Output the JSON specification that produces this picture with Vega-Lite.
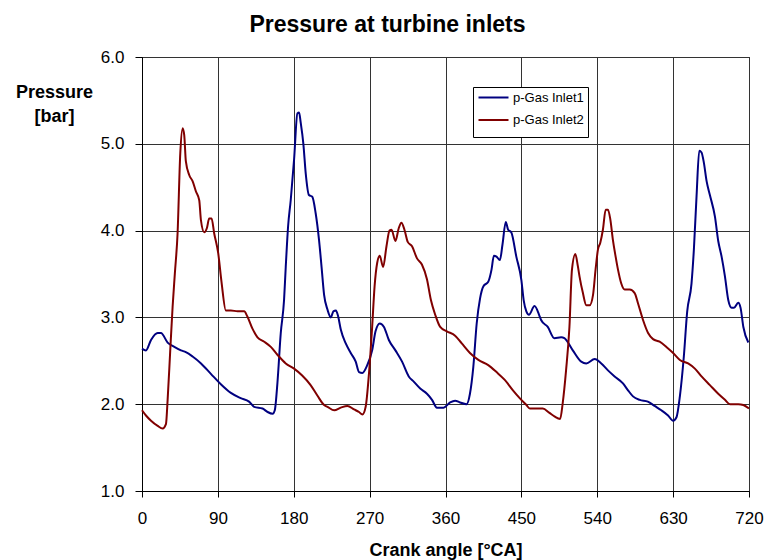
{
  "$schema": "https://vega.github.io/schema/vega-lite/v6.json",
  "width": 607,
  "height": 434,
  "autosize": "none",
  "padding": {"left": 142, "top": 57, "right": 18, "bottom": 69},
  "background": "white",
  "config": {
    "font": "Liberation Sans",
    "view": {"stroke": "black", "strokeWidth": 1}
  },
  "title": {
    "text": "Pressure at turbine inlets",
    "fontSize": 23,
    "fontWeight": "bold",
    "color": "black",
    "anchor": "middle",
    "dx": -58,
    "offset": 11
  },
  "datasets": {
    "pressure": [
      {"a":0,"p":2.64,"s":"p-Gas Inlet1"},{"a":4.7,"p":2.62,"s":"p-Gas Inlet1"},{"a":10.7,"p":2.74,"s":"p-Gas Inlet1"},{"a":18.6,"p":2.82,"s":"p-Gas Inlet1"},{"a":22.5,"p":2.82,"s":"p-Gas Inlet1"},{"a":30.4,"p":2.71,"s":"p-Gas Inlet1"},{"a":38.3,"p":2.66,"s":"p-Gas Inlet1"},{"a":46.2,"p":2.62,"s":"p-Gas Inlet1"},{"a":52,"p":2.6,"s":"p-Gas Inlet1"},{"a":60,"p":2.55,"s":"p-Gas Inlet1"},{"a":70,"p":2.47,"s":"p-Gas Inlet1"},{"a":81.7,"p":2.35,"s":"p-Gas Inlet1"},{"a":93.5,"p":2.23,"s":"p-Gas Inlet1"},{"a":105.4,"p":2.13,"s":"p-Gas Inlet1"},{"a":117,"p":2.07,"s":"p-Gas Inlet1"},{"a":127,"p":2.03,"s":"p-Gas Inlet1"},{"a":133,"p":1.97,"s":"p-Gas Inlet1"},{"a":143,"p":1.95,"s":"p-Gas Inlet1"},{"a":149,"p":1.91,"s":"p-Gas Inlet1"},{"a":155,"p":1.89,"s":"p-Gas Inlet1"},{"a":157.5,"p":1.93,"s":"p-Gas Inlet1"},{"a":160.6,"p":2.24,"s":"p-Gas Inlet1"},{"a":164.6,"p":2.82,"s":"p-Gas Inlet1"},{"a":168.5,"p":3.2,"s":"p-Gas Inlet1"},{"a":170.5,"p":3.58,"s":"p-Gas Inlet1"},{"a":173.3,"p":4.05,"s":"p-Gas Inlet1"},{"a":176.4,"p":4.35,"s":"p-Gas Inlet1"},{"a":180.4,"p":4.82,"s":"p-Gas Inlet1"},{"a":184.3,"p":5.35,"s":"p-Gas Inlet1"},{"a":186.3,"p":5.36,"s":"p-Gas Inlet1"},{"a":188.3,"p":5.24,"s":"p-Gas Inlet1"},{"a":191.4,"p":5.0,"s":"p-Gas Inlet1"},{"a":194.2,"p":4.66,"s":"p-Gas Inlet1"},{"a":198,"p":4.41,"s":"p-Gas Inlet1"},{"a":202,"p":4.39,"s":"p-Gas Inlet1"},{"a":206,"p":4.2,"s":"p-Gas Inlet1"},{"a":210,"p":3.89,"s":"p-Gas Inlet1"},{"a":213,"p":3.58,"s":"p-Gas Inlet1"},{"a":216,"p":3.26,"s":"p-Gas Inlet1"},{"a":220,"p":3.09,"s":"p-Gas Inlet1"},{"a":224,"p":3.0,"s":"p-Gas Inlet1"},{"a":227,"p":3.07,"s":"p-Gas Inlet1"},{"a":230,"p":3.08,"s":"p-Gas Inlet1"},{"a":232.7,"p":3.01,"s":"p-Gas Inlet1"},{"a":235.8,"p":2.86,"s":"p-Gas Inlet1"},{"a":241.7,"p":2.7,"s":"p-Gas Inlet1"},{"a":247.6,"p":2.59,"s":"p-Gas Inlet1"},{"a":253.5,"p":2.49,"s":"p-Gas Inlet1"},{"a":257.4,"p":2.37,"s":"p-Gas Inlet1"},{"a":261.4,"p":2.36,"s":"p-Gas Inlet1"},{"a":267.2,"p":2.45,"s":"p-Gas Inlet1"},{"a":273,"p":2.62,"s":"p-Gas Inlet1"},{"a":277,"p":2.84,"s":"p-Gas Inlet1"},{"a":282,"p":2.93,"s":"p-Gas Inlet1"},{"a":287,"p":2.89,"s":"p-Gas Inlet1"},{"a":292.8,"p":2.74,"s":"p-Gas Inlet1"},{"a":300.6,"p":2.62,"s":"p-Gas Inlet1"},{"a":308.5,"p":2.49,"s":"p-Gas Inlet1"},{"a":316.4,"p":2.32,"s":"p-Gas Inlet1"},{"a":322.3,"p":2.26,"s":"p-Gas Inlet1"},{"a":330,"p":2.18,"s":"p-Gas Inlet1"},{"a":338,"p":2.12,"s":"p-Gas Inlet1"},{"a":344,"p":2.05,"s":"p-Gas Inlet1"},{"a":349.8,"p":1.96,"s":"p-Gas Inlet1"},{"a":357.7,"p":1.96,"s":"p-Gas Inlet1"},{"a":365.5,"p":2.02,"s":"p-Gas Inlet1"},{"a":371.4,"p":2.04,"s":"p-Gas Inlet1"},{"a":377.3,"p":2.02,"s":"p-Gas Inlet1"},{"a":385,"p":2.0,"s":"p-Gas Inlet1"},{"a":389,"p":2.12,"s":"p-Gas Inlet1"},{"a":393,"p":2.43,"s":"p-Gas Inlet1"},{"a":397,"p":2.93,"s":"p-Gas Inlet1"},{"a":401,"p":3.22,"s":"p-Gas Inlet1"},{"a":405,"p":3.36,"s":"p-Gas Inlet1"},{"a":410.7,"p":3.41,"s":"p-Gas Inlet1"},{"a":414.6,"p":3.55,"s":"p-Gas Inlet1"},{"a":417.4,"p":3.71,"s":"p-Gas Inlet1"},{"a":420.5,"p":3.7,"s":"p-Gas Inlet1"},{"a":424.5,"p":3.66,"s":"p-Gas Inlet1"},{"a":427.6,"p":3.84,"s":"p-Gas Inlet1"},{"a":431.5,"p":4.1,"s":"p-Gas Inlet1"},{"a":434.3,"p":4.01,"s":"p-Gas Inlet1"},{"a":438,"p":3.98,"s":"p-Gas Inlet1"},{"a":444,"p":3.7,"s":"p-Gas Inlet1"},{"a":450,"p":3.43,"s":"p-Gas Inlet1"},{"a":452.7,"p":3.2,"s":"p-Gas Inlet1"},{"a":455.9,"p":3.07,"s":"p-Gas Inlet1"},{"a":459,"p":3.03,"s":"p-Gas Inlet1"},{"a":465.6,"p":3.13,"s":"p-Gas Inlet1"},{"a":471,"p":3.03,"s":"p-Gas Inlet1"},{"a":473.4,"p":2.97,"s":"p-Gas Inlet1"},{"a":481.3,"p":2.89,"s":"p-Gas Inlet1"},{"a":489.2,"p":2.76,"s":"p-Gas Inlet1"},{"a":497.2,"p":2.77,"s":"p-Gas Inlet1"},{"a":501,"p":2.76,"s":"p-Gas Inlet1"},{"a":511,"p":2.62,"s":"p-Gas Inlet1"},{"a":521,"p":2.49,"s":"p-Gas Inlet1"},{"a":527,"p":2.47,"s":"p-Gas Inlet1"},{"a":537,"p":2.52,"s":"p-Gas Inlet1"},{"a":544.8,"p":2.47,"s":"p-Gas Inlet1"},{"a":552.7,"p":2.39,"s":"p-Gas Inlet1"},{"a":560.6,"p":2.32,"s":"p-Gas Inlet1"},{"a":570.5,"p":2.24,"s":"p-Gas Inlet1"},{"a":576.5,"p":2.16,"s":"p-Gas Inlet1"},{"a":582.4,"p":2.09,"s":"p-Gas Inlet1"},{"a":590.4,"p":2.05,"s":"p-Gas Inlet1"},{"a":600,"p":2.03,"s":"p-Gas Inlet1"},{"a":608,"p":1.98,"s":"p-Gas Inlet1"},{"a":616,"p":1.93,"s":"p-Gas Inlet1"},{"a":624,"p":1.87,"s":"p-Gas Inlet1"},{"a":630,"p":1.81,"s":"p-Gas Inlet1"},{"a":634,"p":1.85,"s":"p-Gas Inlet1"},{"a":638,"p":2.09,"s":"p-Gas Inlet1"},{"a":642.7,"p":2.55,"s":"p-Gas Inlet1"},{"a":646.7,"p":3.07,"s":"p-Gas Inlet1"},{"a":651.8,"p":3.39,"s":"p-Gas Inlet1"},{"a":654.6,"p":3.78,"s":"p-Gas Inlet1"},{"a":657.8,"p":4.4,"s":"p-Gas Inlet1"},{"a":661,"p":4.92,"s":"p-Gas Inlet1"},{"a":663.7,"p":4.9,"s":"p-Gas Inlet1"},{"a":666.5,"p":4.78,"s":"p-Gas Inlet1"},{"a":669.7,"p":4.57,"s":"p-Gas Inlet1"},{"a":673.6,"p":4.41,"s":"p-Gas Inlet1"},{"a":679.6,"p":4.16,"s":"p-Gas Inlet1"},{"a":683.5,"p":3.88,"s":"p-Gas Inlet1"},{"a":687.5,"p":3.7,"s":"p-Gas Inlet1"},{"a":691.5,"p":3.47,"s":"p-Gas Inlet1"},{"a":695.4,"p":3.2,"s":"p-Gas Inlet1"},{"a":699.4,"p":3.11,"s":"p-Gas Inlet1"},{"a":702.2,"p":3.11,"s":"p-Gas Inlet1"},{"a":707.3,"p":3.17,"s":"p-Gas Inlet1"},{"a":710,"p":3.11,"s":"p-Gas Inlet1"},{"a":713.3,"p":2.89,"s":"p-Gas Inlet1"},{"a":719.2,"p":2.71,"s":"p-Gas Inlet1"},
      {"a":0,"p":1.93,"s":"p-Gas Inlet2"},{"a":4.7,"p":1.87,"s":"p-Gas Inlet2"},{"a":10.7,"p":1.81,"s":"p-Gas Inlet2"},{"a":18.6,"p":1.75,"s":"p-Gas Inlet2"},{"a":24.5,"p":1.72,"s":"p-Gas Inlet2"},{"a":28.4,"p":1.77,"s":"p-Gas Inlet2"},{"a":30.4,"p":2.05,"s":"p-Gas Inlet2"},{"a":33.5,"p":2.62,"s":"p-Gas Inlet2"},{"a":36.3,"p":3.12,"s":"p-Gas Inlet2"},{"a":39,"p":3.51,"s":"p-Gas Inlet2"},{"a":42.2,"p":3.97,"s":"p-Gas Inlet2"},{"a":45.4,"p":4.89,"s":"p-Gas Inlet2"},{"a":48.2,"p":5.18,"s":"p-Gas Inlet2"},{"a":50.1,"p":5.1,"s":"p-Gas Inlet2"},{"a":52,"p":4.8,"s":"p-Gas Inlet2"},{"a":56,"p":4.64,"s":"p-Gas Inlet2"},{"a":60,"p":4.57,"s":"p-Gas Inlet2"},{"a":64,"p":4.45,"s":"p-Gas Inlet2"},{"a":67.9,"p":4.35,"s":"p-Gas Inlet2"},{"a":69.9,"p":4.12,"s":"p-Gas Inlet2"},{"a":73.8,"p":3.98,"s":"p-Gas Inlet2"},{"a":77,"p":4.03,"s":"p-Gas Inlet2"},{"a":79.7,"p":4.14,"s":"p-Gas Inlet2"},{"a":82.5,"p":4.14,"s":"p-Gas Inlet2"},{"a":85.6,"p":3.97,"s":"p-Gas Inlet2"},{"a":90.4,"p":3.74,"s":"p-Gas Inlet2"},{"a":94.3,"p":3.41,"s":"p-Gas Inlet2"},{"a":99.5,"p":3.08,"s":"p-Gas Inlet2"},{"a":105.4,"p":3.08,"s":"p-Gas Inlet2"},{"a":113.3,"p":3.07,"s":"p-Gas Inlet2"},{"a":121.2,"p":3.07,"s":"p-Gas Inlet2"},{"a":125,"p":3.01,"s":"p-Gas Inlet2"},{"a":131,"p":2.87,"s":"p-Gas Inlet2"},{"a":137,"p":2.77,"s":"p-Gas Inlet2"},{"a":145,"p":2.72,"s":"p-Gas Inlet2"},{"a":152.8,"p":2.66,"s":"p-Gas Inlet2"},{"a":160.6,"p":2.57,"s":"p-Gas Inlet2"},{"a":170.5,"p":2.47,"s":"p-Gas Inlet2"},{"a":180.4,"p":2.41,"s":"p-Gas Inlet2"},{"a":190,"p":2.33,"s":"p-Gas Inlet2"},{"a":200,"p":2.22,"s":"p-Gas Inlet2"},{"a":208,"p":2.1,"s":"p-Gas Inlet2"},{"a":216,"p":1.99,"s":"p-Gas Inlet2"},{"a":220,"p":1.97,"s":"p-Gas Inlet2"},{"a":228,"p":1.93,"s":"p-Gas Inlet2"},{"a":235.8,"p":1.96,"s":"p-Gas Inlet2"},{"a":243.7,"p":1.98,"s":"p-Gas Inlet2"},{"a":251.5,"p":1.94,"s":"p-Gas Inlet2"},{"a":257.4,"p":1.91,"s":"p-Gas Inlet2"},{"a":261.4,"p":1.88,"s":"p-Gas Inlet2"},{"a":265.3,"p":1.97,"s":"p-Gas Inlet2"},{"a":269.2,"p":2.35,"s":"p-Gas Inlet2"},{"a":273,"p":2.89,"s":"p-Gas Inlet2"},{"a":275.9,"p":3.36,"s":"p-Gas Inlet2"},{"a":279,"p":3.63,"s":"p-Gas Inlet2"},{"a":282,"p":3.71,"s":"p-Gas Inlet2"},{"a":286,"p":3.58,"s":"p-Gas Inlet2"},{"a":290,"p":3.82,"s":"p-Gas Inlet2"},{"a":293.6,"p":4.0,"s":"p-Gas Inlet2"},{"a":296,"p":4.01,"s":"p-Gas Inlet2"},{"a":300.6,"p":3.88,"s":"p-Gas Inlet2"},{"a":304.6,"p":4.03,"s":"p-Gas Inlet2"},{"a":307.7,"p":4.09,"s":"p-Gas Inlet2"},{"a":311.3,"p":4.01,"s":"p-Gas Inlet2"},{"a":315.2,"p":3.87,"s":"p-Gas Inlet2"},{"a":320.3,"p":3.82,"s":"p-Gas Inlet2"},{"a":326.2,"p":3.68,"s":"p-Gas Inlet2"},{"a":332,"p":3.61,"s":"p-Gas Inlet2"},{"a":338,"p":3.44,"s":"p-Gas Inlet2"},{"a":342.7,"p":3.2,"s":"p-Gas Inlet2"},{"a":347.8,"p":3.03,"s":"p-Gas Inlet2"},{"a":353.7,"p":2.89,"s":"p-Gas Inlet2"},{"a":361.6,"p":2.84,"s":"p-Gas Inlet2"},{"a":371.4,"p":2.79,"s":"p-Gas Inlet2"},{"a":379.3,"p":2.7,"s":"p-Gas Inlet2"},{"a":389,"p":2.59,"s":"p-Gas Inlet2"},{"a":399,"p":2.51,"s":"p-Gas Inlet2"},{"a":410.7,"p":2.45,"s":"p-Gas Inlet2"},{"a":420.5,"p":2.37,"s":"p-Gas Inlet2"},{"a":430.3,"p":2.28,"s":"p-Gas Inlet2"},{"a":440,"p":2.16,"s":"p-Gas Inlet2"},{"a":448,"p":2.07,"s":"p-Gas Inlet2"},{"a":456,"p":1.99,"s":"p-Gas Inlet2"},{"a":460,"p":1.95,"s":"p-Gas Inlet2"},{"a":475.4,"p":1.95,"s":"p-Gas Inlet2"},{"a":483.3,"p":1.9,"s":"p-Gas Inlet2"},{"a":489.2,"p":1.86,"s":"p-Gas Inlet2"},{"a":496,"p":1.83,"s":"p-Gas Inlet2"},{"a":499,"p":2.01,"s":"p-Gas Inlet2"},{"a":503,"p":2.39,"s":"p-Gas Inlet2"},{"a":507,"p":2.89,"s":"p-Gas Inlet2"},{"a":510,"p":3.55,"s":"p-Gas Inlet2"},{"a":514,"p":3.73,"s":"p-Gas Inlet2"},{"a":517,"p":3.59,"s":"p-Gas Inlet2"},{"a":519,"p":3.47,"s":"p-Gas Inlet2"},{"a":523,"p":3.28,"s":"p-Gas Inlet2"},{"a":527,"p":3.14,"s":"p-Gas Inlet2"},{"a":531,"p":3.14,"s":"p-Gas Inlet2"},{"a":535,"p":3.26,"s":"p-Gas Inlet2"},{"a":538,"p":3.55,"s":"p-Gas Inlet2"},{"a":540.8,"p":3.78,"s":"p-Gas Inlet2"},{"a":543.6,"p":3.86,"s":"p-Gas Inlet2"},{"a":546.7,"p":4.01,"s":"p-Gas Inlet2"},{"a":550,"p":4.24,"s":"p-Gas Inlet2"},{"a":552.7,"p":4.24,"s":"p-Gas Inlet2"},{"a":555.5,"p":4.13,"s":"p-Gas Inlet2"},{"a":558.6,"p":3.89,"s":"p-Gas Inlet2"},{"a":561.8,"p":3.7,"s":"p-Gas Inlet2"},{"a":564.6,"p":3.55,"s":"p-Gas Inlet2"},{"a":568.5,"p":3.39,"s":"p-Gas Inlet2"},{"a":572.5,"p":3.32,"s":"p-Gas Inlet2"},{"a":578.5,"p":3.32,"s":"p-Gas Inlet2"},{"a":584.4,"p":3.28,"s":"p-Gas Inlet2"},{"a":588.4,"p":3.16,"s":"p-Gas Inlet2"},{"a":594.3,"p":2.97,"s":"p-Gas Inlet2"},{"a":600.3,"p":2.82,"s":"p-Gas Inlet2"},{"a":606.2,"p":2.75,"s":"p-Gas Inlet2"},{"a":614,"p":2.72,"s":"p-Gas Inlet2"},{"a":622,"p":2.66,"s":"p-Gas Inlet2"},{"a":630,"p":2.59,"s":"p-Gas Inlet2"},{"a":638,"p":2.51,"s":"p-Gas Inlet2"},{"a":647.8,"p":2.47,"s":"p-Gas Inlet2"},{"a":655.8,"p":2.41,"s":"p-Gas Inlet2"},{"a":663.7,"p":2.32,"s":"p-Gas Inlet2"},{"a":673.6,"p":2.22,"s":"p-Gas Inlet2"},{"a":683.5,"p":2.12,"s":"p-Gas Inlet2"},{"a":691.5,"p":2.05,"s":"p-Gas Inlet2"},{"a":697.4,"p":2.0,"s":"p-Gas Inlet2"},{"a":707.3,"p":2.0,"s":"p-Gas Inlet2"},{"a":713.3,"p":1.99,"s":"p-Gas Inlet2"},{"a":720,"p":1.95,"s":"p-Gas Inlet2"}
    ]
  },
  "data": {"name": "pressure"},
  "mark": {"type": "line", "strokeWidth": 2, "interpolate": "monotone"},
  "encoding": {
    "x": {
      "field": "a",
      "type": "quantitative",
      "scale": {"domain": [0, 720], "nice": false},
      "axis": {
        "values": [0, 90, 180, 270, 360, 450, 540, 630, 720],
        "title": "Crank angle [°CA]",
        "titleFontSize": 18,
        "titleFontWeight": "bold",
        "titleColor": "black",
        "titlePadding": 15,
        "labelFontSize": 17,
        "labelColor": "black",
        "labelPadding": 13,
        "tickSize": 6,
        "tickColor": "black",
        "domainColor": "black",
        "gridColor": "#333",
        "gridWidth": 1,
        "labelFlush": false
      }
    },
    "y": {
      "field": "p",
      "type": "quantitative",
      "scale": {"domain": [1, 6], "nice": false, "zero": false},
      "axis": {
        "values": [1, 2, 3, 4, 5, 6],
        "format": ".1f",
        "title": ["Pressure", "[bar]"],
        "titleAngle": 0,
        "titleAlign": "center",
        "titleBaseline": "top",
        "titleX": -88,
        "titleY": 26,
        "titleLineHeight": 24,
        "titleFontSize": 18,
        "titleFontWeight": "bold",
        "titleColor": "black",
        "labelFontSize": 17,
        "labelColor": "black",
        "labelPadding": 11,
        "tickSize": 7,
        "tickColor": "black",
        "domainColor": "black",
        "gridColor": "#333",
        "gridWidth": 1,
        "labelFlush": false
      }
    },
    "color": {
      "field": "s",
      "type": "nominal",
      "scale": {"domain": ["p-Gas Inlet1", "p-Gas Inlet2"], "range": ["#000080", "#800000"]},
      "legend": {
        "title": " ",
        "titleOrient": "bottom",
        "titleFontSize": 3,
        "titlePadding": 3,
        "orient": "none",
        "legendX": 331,
        "legendY": 30,
        "fillColor": "white",
        "strokeColor": "black",
        "padding": 4,
        "symbolType": "M-1,0H5",
        "symbolSize": 100,
        "symbolStrokeWidth": 2,
        "labelFontSize": 13,
        "labelColor": "black",
        "labelOffset": 23,
        "rowPadding": 8.5
      }
    }
  }
}
